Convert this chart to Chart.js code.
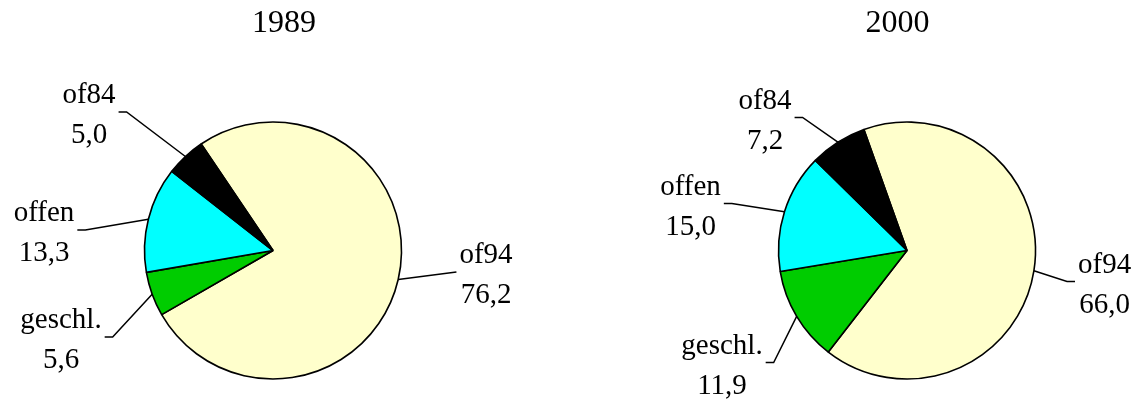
<!DOCTYPE html>
<html>
<head>
<meta charset="utf-8">
<script src="https://cdn.jsdelivr.net/npm/chart.js@4/dist/chart.umd.min.js"></script>
<style>
  html, body { margin: 0; padding: 0; background: #fff; }
  #wrap { position: relative; width: 1136px; height: 400px; }
  canvas { position: absolute; top: 0; }
</style>
</head>
<body>
<div id="wrap">
  <canvas id="c1989" width="568" height="400" style="left:0px"></canvas>
  <canvas id="c2000" width="568" height="400" style="left:568px"></canvas>
</div>
<script>
// ---- data ----
const categories = ['of94', 'geschl.', 'offen', 'of84'];
const values1989 = [76.2, 5.6, 13.3, 5.0];
const values2000 = [66.0, 11.9, 15.0, 7.2];
const years = ['1989', '2000'];
const sliceColors = ['#FFFFCC', '#00CC00', '#00FFFF', '#000000'];

// ---- styling / layout ----
const FONT = '"Liberation Serif", "Times New Roman", serif';
const LABEL_SIZE = 29;
const LINE_GAP = 40;
const TITLE_SIZE = 32;
const RADIUS = 128.5;

function fmt(v) { return v.toFixed(1).replace('.', ','); }

const leaderLabels = {
  id: 'leaderLabels',
  afterDraw(chart, args, opts) {
    const ctx = chart.ctx;
    const meta = chart.getDatasetMeta(0);
    const data = chart.data.datasets[0].data;
    ctx.save();
    ctx.font = LABEL_SIZE + 'px ' + FONT;
    ctx.fillStyle = '#000';
    ctx.strokeStyle = '#000';
    ctx.lineWidth = 1.5;
    let cxPie = 0;
    meta.data.forEach((arc, i) => {
      const p = arc.getProps(['x', 'y', 'startAngle', 'endAngle', 'outerRadius'], true);
      cxPie = p.x;
      const mid = (p.startAngle + p.endAngle) / 2;
      const px = p.x + Math.cos(mid) * p.outerRadius;
      const py = p.y + Math.sin(mid) * p.outerRadius;
      const pos = opts.positions[i];
      const cx = p.x + pos[0], by = p.y + pos[1];
      const name = chart.data.labels[i];
      const val = fmt(data[i]);
      const w = Math.max(ctx.measureText(name).width, ctx.measureText(val).width);
      const onLeft = cx < p.x;
      const ex = onLeft ? cx + w / 2 + 3 : cx - w / 2 - 3;
      const ey = by + 9;
      const kink = pos[2] === undefined ? 8 : pos[2];
      const kx = onLeft ? ex + kink : ex - kink;
      ctx.beginPath();
      ctx.moveTo(ex, ey);
      ctx.lineTo(kx, ey);
      ctx.lineTo(px, py);
      ctx.stroke();
      ctx.textAlign = 'center';
      ctx.textBaseline = 'alphabetic';
      ctx.fillText(name, cx, by);
      ctx.fillText(val, cx, by + LINE_GAP);
    });
    ctx.font = TITLE_SIZE + 'px ' + FONT;
    ctx.textAlign = 'center';
    ctx.textBaseline = 'alphabetic';
    ctx.fillText(opts.title, cxPie + opts.titleDx, opts.titleY);
    ctx.restore();
  }
};

function makePie(id, title, values, rotation, padding, positions, titleDx) {
  return new Chart(document.getElementById(id), {
    type: 'pie',
    data: {
      labels: categories,
      datasets: [{
        data: values,
        backgroundColor: sliceColors,
        borderColor: '#000000',
        borderWidth: 1.6
      }]
    },
    options: {
      responsive: false,
      animation: false,
      devicePixelRatio: 1,
      rotation: rotation,
      radius: RADIUS,
      layout: { padding: padding },
      plugins: {
        legend: { display: false },
        tooltip: { enabled: false },
        title: { display: false },
        leaderLabels: { title: title, titleDx: titleDx, titleY: 32, positions: positions }
      }
    },
    plugins: [leaderLabels]
  });
}

function build() {
  makePie('c1989', years[0], values1989, -34,
    { left: 144.5, right: 166.5, top: 122, bottom: 21 },
    [[213, 12.5, 0], [-212, 77.5], [-229, -29.5], [-184, -147.5]], 11);

  makePie('c2000', years[1], values2000, -19.6,
    { left: 210.5, right: 100.5, top: 122, bottom: 21 },
    [[197.6, 22], [-185, 103], [-216.5, -56], [-142, -142]], -9.5);
}

Promise.all([
  document.fonts.load(LABEL_SIZE + 'px "Liberation Serif"'),
  document.fonts.load(TITLE_SIZE + 'px "Liberation Serif"')
]).then(build, build);
</script>
</body>
</html>
